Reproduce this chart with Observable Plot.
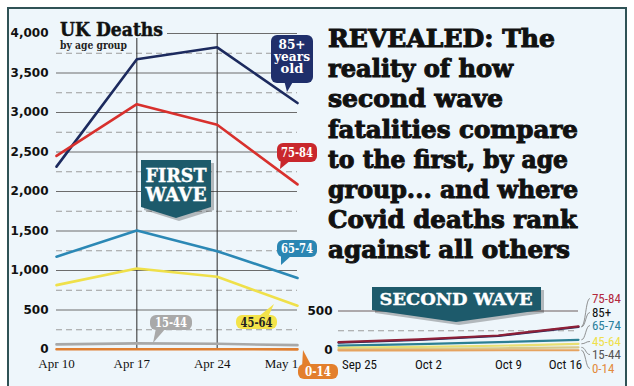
<!DOCTYPE html>
<html><head><meta charset="utf-8">
<script src="https://cdn.jsdelivr.net/npm/d3@7"></script>
<script src="https://cdn.jsdelivr.net/npm/@observablehq/plot@0.6"></script>
<style>
html,body{margin:0;padding:0;background:#fff;}
#root{position:relative;width:634px;height:386px;overflow:hidden;background:#fff;}
#frame{position:absolute;left:7px;top:7px;width:620px;height:400px;border:2px solid #2f5256;background:#eef6fb;box-sizing:border-box;}
.abs{position:absolute;left:0;top:0;}
</style></head><body>
<div id="root"><div id="frame"></div><div id="p1" class="abs"></div><div id="p2" class="abs" style="left:300px;top:250px"></div></div>
<script>
// ---------- data ----------
const ageGroups = ["85+", "75-84", "65-74", "45-64", "15-44", "0-14"];
const firstDates = ["2020-04-10", "2020-04-17", "2020-04-24", "2020-05-01"];
const firstTickLabels = ["Apr 10", "Apr 17", "Apr 24", "May 1"];
const first85 = [2315, 3675, 3825, 3120];
const first7584 = [2450, 3105, 2845, 2090];
const first6574 = [1175, 1505, 1245, 905];
const first4564 = [815, 1025, 920, 555];
const first1544 = [65, 78, 72, 55];
const first014 = [3, 4, 3, 2];

const secondDates = ["2020-09-25", "2020-10-02", "2020-10-09", "2020-10-16"];
const secondTickLabels = ["Sep 25", "Oct 2", "Oct 9", "Oct 16"];
const second85 = [98, 133, 184, 298];
const second7584 = [105, 140, 190, 305];
const second6574 = [62, 80, 105, 135];
const second4564 = [34, 45, 60, 85];
const second1544 = [16, 20, 28, 40];
const second014 = [2, 2, 3, 3];

const firstYTicks = [0, 500, 1000, 1500, 2000, 2500, 3000, 3500, 4000];
const firstYDashed = [250, 750, 1250, 1750, 2250, 2750, 3250, 3750];
const secondYTicks = [0, 500];
const secondYDashed = [250];
const secondLabelY = [481, 658, 316, 114, -51, -228]; // legend slots (data units), same order as ageGroups

const colorsFirst = ["#1c2a5e", "#d8302d", "#2b88b5", "#efe04a", "#a8a8a8", "#e07f32"];
const colorsSecond = ["#1c2a5e", "#8e1f37", "#2c7f93", "#e8df72", "#d8c98a", "#e6a360"];
const labelColorsSecond = ["#111111", "#b3283d", "#2a7f9c", "#efe04c", "#555555", "#e38b3b"];

// ---------- tables ----------
const parse = d3.utcParse("%Y-%m-%d");
const fSeries = [first85, first7584, first6574, first4564, first1544, first014];
const sSeries = [second85, second7584, second6574, second4564, second1544, second014];
const firstRows = [], secondRows = [];
ageGroups.forEach((g, i) => {
  firstDates.forEach((d, j) => firstRows.push({group: g, date: parse(d), value: fSeries[i][j]}));
  secondDates.forEach((d, j) => secondRows.push({group: g, date: parse(d), value: sSeries[i][j]}));
});
const fD = firstDates.map(parse), sD = secondDates.map(parse);
const fLab = new Map(fD.map((d, i) => [+d, firstTickLabels[i]]));
const sLab = new Map(sD.map((d, i) => [+d, secondTickLabels[i]]));
const lastS = sD[sD.length - 1];
const leaderStart = new Date(+lastS + 6 * 3600e3);
const leaderEnd = new Date(+lastS + 24 * 3600e3);
const legendRows = ageGroups.map((g, i) => ({group: g, v: sSeries[i][3], ly: secondLabelY[i], color: labelColorsSecond[i]}));
const narrow = "'Liberation Sans Narrow', 'Roboto Condensed', Roboto, sans-serif";

// ---------- first wave ----------
const fAxisOpts = {tickSize: 0, tickPadding: 9, tickFormat: d => fLab.get(+d), label: null,
  fontFamily: "Liberation Serif", fontSize: 13, fill: "#111"};
const p1 = Plot.plot({
  width: 320, height: 386,
  marginLeft: 56, marginRight: 23, marginTop: 33, marginBottom: 37,
  style: {background: "transparent", overflow: "visible"},
  x: {type: "utc", domain: [fD[0], fD[3]]},
  y: {domain: [0, 4000]},
  color: {domain: ageGroups, range: colorsFirst},
  marks: [
    Plot.ruleY(firstYDashed, {stroke: "#9c9c9c", strokeDasharray: "6,4"}),
    Plot.ruleY(firstYTicks, {stroke: "#6c6c6c"}),
    Plot.ruleX(fD.slice(1, 3), {stroke: "#2a2a2a"}),
    Plot.axisY(firstYTicks, {tickSize: 0, tickPadding: 8, tickFormat: d3.format(","), label: null,
      fontFamily: "DejaVu Sans", fontWeight: "bold", fontSize: 12, fill: "#111"}),
    Plot.axisX(fD.slice(0, 1), {...fAxisOpts}),
    Plot.axisX(fD.slice(1, 3), {...fAxisOpts, dx: -5}),
    Plot.axisX(fD.slice(3), {...fAxisOpts, dx: -16}),
    Plot.line(firstRows, {x: "date", y: "value", z: "group", stroke: "group", strokeWidth: 2.6})
  ]
});
document.getElementById("p1").appendChild(p1);

// ---------- second wave ----------
const sAxisOpts = {tickSize: 0, tickPadding: 9, tickFormat: d => sLab.get(+d), label: null,
  fontFamily: narrow, fontSize: 13, fill: "#111"};
const p2marks = [
  Plot.ruleY(secondYDashed, {stroke: "#9c9c9c", strokeDasharray: "6,4"}),
  Plot.ruleY(secondYTicks.slice(1), {stroke: "#6c5c5c"}),
  Plot.axisY(secondYTicks, {tickSize: 0, tickPadding: 6, label: null,
    fontFamily: "DejaVu Sans", fontWeight: "bold", fontSize: 12, fill: "#111"}),
  Plot.axisX(sD.slice(0, 1), {...sAxisOpts, dx: 21}),
  Plot.axisX(sD.slice(1, 3), {...sAxisOpts, dx: 10}),
  Plot.axisX(sD.slice(3), {...sAxisOpts, dx: -13}),
  Plot.line(secondRows, {x: "date", y: "value", z: "group", stroke: "group", strokeWidth: 2.2}),
  Plot.link(legendRows, {x1: leaderStart, y1: "v", x2: leaderEnd, y2: "ly", curve: "bump-x", stroke: "#777", strokeWidth: 0.8})
];
legendRows.forEach(r => p2marks.push(
  Plot.text([r], {x: leaderEnd, y: "ly", text: "group", dx: 2, textAnchor: "start",
    fill: r.color, fontFamily: narrow, fontSize: 13})
));
const p2 = Plot.plot({
  width: 334, height: 136,
  marginLeft: 38, marginRight: 56, marginTop: 60.5, marginBottom: 36,
  style: {background: "transparent", overflow: "visible"},
  x: {type: "utc", domain: [sD[0], sD[3]]},
  y: {domain: [0, 500]},
  color: {domain: ageGroups, range: colorsSecond},
  marks: p2marks
});
document.getElementById("p2").appendChild(p2);

// ---------- annotations overlay ----------
const svg = d3.select("#root").append("svg").attr("class", "abs")
  .attr("width", 634).attr("height", 386).style("pointer-events", "none");
const serif = "'DejaVu Serif', serif";

// chart title
svg.append("rect").attr("x", 52).attr("y", 18).attr("width", 115).attr("height", 20).attr("fill", "#eef6fb");
svg.append("text").attr("x", 60).attr("y", 36).attr("font-family", serif).attr("font-weight", "bold")
  .attr("font-size", 19).attr("textLength", 103).attr("lengthAdjust", "spacingAndGlyphs").attr("fill", "#111")
  .attr("stroke", "#111").attr("stroke-width", 0.5).text("UK Deaths");
svg.append("text").attr("x", 60).attr("y", 49).attr("font-family", serif).attr("font-weight", "bold")
  .attr("font-size", 11).attr("textLength", 67).attr("lengthAdjust", "spacingAndGlyphs").attr("fill", "#222").text("by age group");

// headline
const headline = ["REVEALED: The", "reality of how", "second wave", "fatalities compare", "to the first, by age", "group... and where", "Covid deaths rank", "against all others"];
const headW = [227, 185, 175, 250, 240, 250, 249, 242];
headline.forEach((t, i) => svg.append("text").attr("x", 328).attr("y", 47 + i * 30.2)
  .attr("font-family", serif).attr("font-weight", "900").attr("font-size", 24)
  .attr("textLength", headW[i]).attr("lengthAdjust", "spacingAndGlyphs").attr("fill", "#111")
  .attr("stroke", "#111").attr("stroke-width", 1).text(t));

// banners
function banner(pts, lines, size) {
  const g = svg.append("g");
  g.append("polygon").attr("points", pts.map(p => [p[0] + 3, p[1] + 3].join(",")).join(" ")).attr("fill", "rgba(0,0,0,0.25)");
  g.append("polygon").attr("points", pts.map(p => p.join(",")).join(" ")).attr("fill", "#1d5a6b");
  lines.forEach(l => g.append("text").attr("x", l[0]).attr("y", l[1]).attr("text-anchor", "middle")
    .attr("font-family", serif).attr("font-weight", "bold").attr("font-size", size)
    .attr("textLength", l[3]).attr("lengthAdjust", "spacingAndGlyphs")
    .attr("fill", "#fff").attr("stroke", "#fff").attr("stroke-width", 0.4).text(l[2]));
}
banner([[141, 160], [211, 160], [211, 207], [176, 218], [141, 207]], [[176, 182, "FIRST", 61], [176, 201, "WAVE", 61]], 19);
banner([[372, 287], [541, 287], [541, 310], [456, 322], [372, 310]], [[456, 305, "SECOND WAVE", 153]], 17);

// callouts
function callout(x, y, w, h, fill, tc, ptr, lines, size) {
  const g = svg.append("g");
  g.append("polygon").attr("points", ptr.map(p => p.join(",")).join(" ")).attr("fill", fill);
  g.append("rect").attr("x", x).attr("y", y).attr("width", w).attr("height", h).attr("rx", 6).attr("fill", fill);
  lines.forEach(l => g.append("text").attr("x", x + w / 2).attr("y", l[1]).attr("text-anchor", "middle")
    .attr("font-family", serif).attr("font-weight", "bold").attr("font-size", size)
    .attr("textLength", l[2]).attr("lengthAdjust", "spacingAndGlyphs").attr("fill", tc).text(l[0]));
}
callout(271, 35, 42, 48, "#1f2f6b", "#fff", [[284, 80], [294, 80], [287, 92]],
  [["85+", 49, 27], ["years", 61, 36], ["old", 73, 23]], 12.5);
callout(277, 143, 40, 19, "#c9272c", "#fff", [[281, 158], [291, 160], [280, 169]], [["75-84", 157, 32]], 13);
callout(277, 240, 40, 17, "#2a86b3", "#fff", [[281, 254], [291, 256], [281, 265]], [["65-74", 253, 32]], 13);
callout(236, 315, 41, 14, "#f3e34a", "#222", [[258, 317], [268, 317], [274, 304]], [["45-64", 327, 32]], 13);
callout(150, 315, 42, 15, "#a9a9a9", "#fff", [[156, 328], [166, 328], [153, 343]], [["15-44", 327, 32]], 13);
callout(298, 364, 40, 15, "#e37f2c", "#fff", [[302, 367], [312, 367], [303, 350]], [["0-14", 376, 26]], 13);
</script>
</body></html>
